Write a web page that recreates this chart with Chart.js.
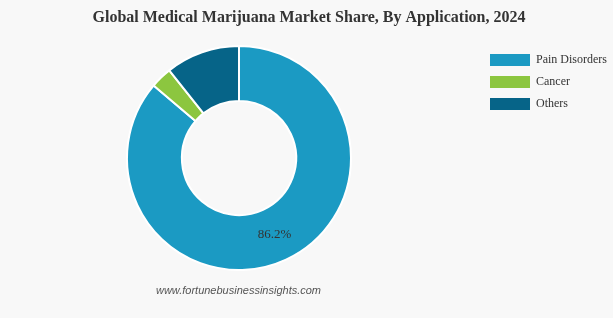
<!DOCTYPE html>
<html>
<head>
<meta charset="utf-8">
<script src="https://cdn.jsdelivr.net/npm/chart.js@4.4.1/dist/chart.umd.min.js"></script>
<style>
  html, body { margin: 0; padding: 0; background: #f8f8f8; }
  #wrap { position: relative; width: 613px; height: 318px; }
</style>
</head>
<body>
<div id="wrap"><canvas id="shareChart" width="613" height="318"></canvas></div>
<script>
// data
const chartTitle = "Global Medical Marijuana Market Share, By Application, 2024";
const categories = ["Pain Disorders", "Cancer", "Others"];
const shareValues = [86.2, 3.1, 10.7];
const sliceColors = ["#1b9ac3", "#8cc63f", "#066488"];
const labelledSlices = [true, false, false];

// title, slice value label, legend and source text
const extrasPlugin = {
    id: "extras",
    afterDatasetsDraw(chart) {
        const ctx = chart.ctx;
        const meta = chart.getDatasetMeta(0);
        ctx.save();
        ctx.font = "13px 'Liberation Serif', 'Times New Roman', serif";
        ctx.fillStyle = "#333333";
        ctx.textAlign = "center";
        ctx.textBaseline = "middle";
        meta.data.forEach((arc, i) => {
            if (!labelledSlices[i]) return;
            const p = arc.getCenterPoint();
            ctx.fillText(shareValues[i].toFixed(1) + "%", p.x, p.y);
        });
        ctx.restore();
    },
    afterDraw(chart) {
        const ctx = chart.ctx;
        ctx.save();
        // title
        ctx.font = "bold 16px 'Liberation Serif', 'Times New Roman', serif";
        ctx.fillStyle = "#333333";
        ctx.textAlign = "center";
        ctx.textBaseline = "middle";
        ctx.fillText(chartTitle, 309, 18);
        // legend
        ctx.font = "12px 'Liberation Serif', 'Times New Roman', serif";
        ctx.textAlign = "left";
        chart.data.labels.forEach((lab, i) => {
            const y = 60 + i * 22;
            ctx.fillStyle = chart.data.datasets[0].backgroundColor[i];
            ctx.fillRect(490, y - 6, 40, 12);
            ctx.fillStyle = "#333333";
            ctx.fillText(lab, 536, y);
        });
        // source
        ctx.font = "italic 11px 'Liberation Sans', Arial, sans-serif";
        ctx.fillStyle = "#555555";
        ctx.textAlign = "center";
        ctx.fillText("www.fortunebusinessinsights.com", 238.5, 291);
        ctx.restore();
    }
};

new Chart(document.getElementById("shareChart"), {
    type: "doughnut",
    data: {
        labels: categories,
        datasets: [{
            data: shareValues,
            backgroundColor: sliceColors,
            borderColor: "#ffffff",
            borderWidth: 2,
            hoverOffset: 0
        }]
    },
    options: {
        responsive: false,
        animation: false,
        cutout: "51%",
        layout: {
            padding: { left: 126, right: 261, top: 45, bottom: 47 }
        },
        plugins: {
            legend: { display: false },
            tooltip: { enabled: false },
            title: { display: false }
        }
    },
    plugins: [extrasPlugin]
});
</script>
</body>
</html>
